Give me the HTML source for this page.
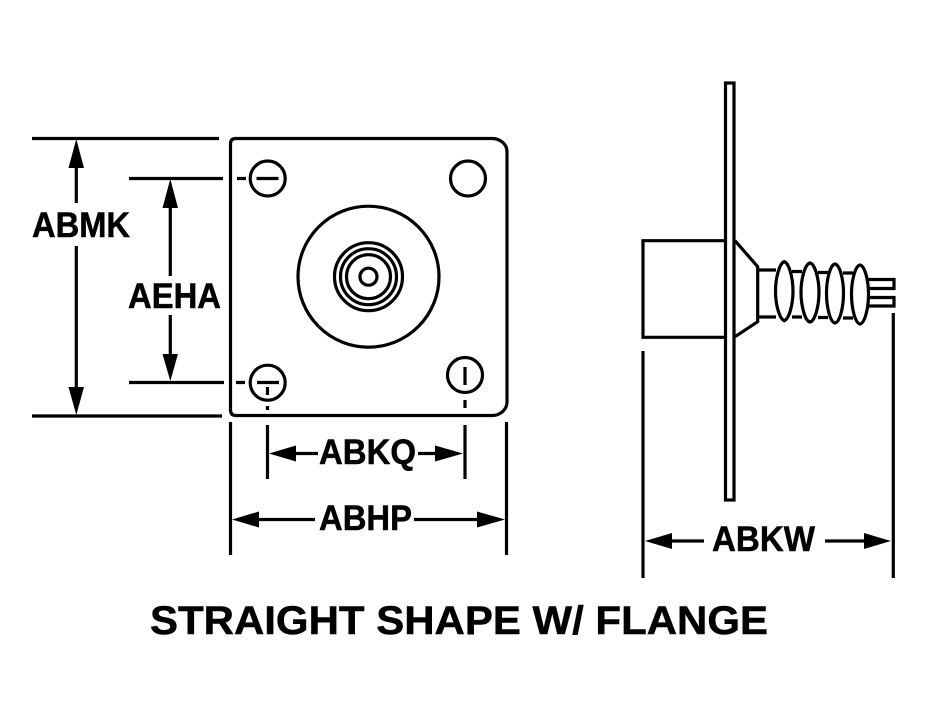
<!DOCTYPE html>
<html>
<head>
<meta charset="utf-8">
<style>
html,body{margin:0;padding:0;background:#fff;}
svg{display:block;}
text{font-family:"Liberation Sans",Arial,sans-serif;font-weight:bold;fill:#000;stroke:#000;stroke-width:.5;}
</style>
</head>
<body>
<svg width="928" height="708" viewBox="0 0 928 708" xmlns="http://www.w3.org/2000/svg">
<rect width="928" height="708" fill="#fff"/>
<g fill="none" stroke="#000" stroke-width="3.2">
  <!-- plate -->
  <path d="M235.500 138.500H492A15 13 0 0 1 507 151.500V402A15 13.500 0 0 1 492 415.500H236Q230.500 415.500 230.500 410V144Q230.500 138.500 235.500 138.500Z"/>
  <circle cx="267.700" cy="178.500" r="17.500"/>
  <circle cx="468" cy="178.500" r="17.500"/>
  <circle cx="267.700" cy="382.700" r="17.500"/>
  <circle cx="465" cy="375" r="17.500"/>
  <circle cx="368.500" cy="276.700" r="70.500"/>
  <circle cx="368.500" cy="276.700" r="34"/>
  <circle cx="368.500" cy="276.700" r="28"/>
  <circle cx="368.500" cy="276.700" r="22"/>
  <circle cx="368.500" cy="276.700" r="8.500"/>
  <!-- centre lines -->
  <path d="M237 178.500H246M256.500 178.500H278.500M236 382.500H245M257 382.500H279M267.500 387V395M267.500 406V410M465 367V385M465 400V408"/>
  <!-- left dims -->
  <path d="M32 138.500H219M129 178.500H223M129 382.500H224M32 416H222"/>
  <path d="M76.300 160V203M76.300 246V395M170.300 200V276M170.300 315V362"/>
  <!-- bottom dims -->
  <path d="M267.500 425V479M465 425V479M230.500 422V555M506.500 422V555M290 453.500H318M418 453.500H440M255 519.500H315M414 519.500H480"/>
  <path d="M643 351V578M893.300 313V578M668 541H704M825 541H868"/>
  <!-- side view -->
  <rect x="725.500" y="83" width="8.500" height="417"/>
  <path d="M724 240.700H643V337.300H724"/>
  <path d="M735 240.700L757.700 266.700V321.700L735 336.700"/>
  <path d="M757.700 270H776M757.700 317H776M792 271.500H802M792 317H802M818 272.500H828M818 317.500H828M843 273H853M843 318H853"/>
  <path d="M784.300 261.700C789 263 793 278 793 291C793 305 789 319 784.300 320.700C779.500 319 775.500 305 775.500 291C775.500 278 779.500 263 784.300 261.700Z" transform="translate(0 0)"/>
  <path d="M810 263C815 264 819 279 819 292C819 306 815 321 810 322C805 321 801 306 801 292C801 279 805 264 810 263Z"/>
  <path d="M835 264C840 265 843.500 280 843.500 293C843.500 307 840 322 835 323C830 322 826.500 307 826.500 293C826.500 280 830 265 835 264Z"/>
  <path d="M860 265C865 266 868.500 281 868.500 294C868.500 308 865 323 860 324C855 323 851.500 308 851.500 294C851.500 281 855 266 860 265Z"/>
  <path d="M868 279.500H894V288.500H868M868 297.500H894V306H868"/>
</g>
<g fill="#000" stroke="none">
  <!-- arrowheads -->
  <polygon points="76.300,139 68.500,168 84,168"/>
  <polygon points="76.300,415 68.500,387 84,387"/>
  <polygon points="170.300,179 162.500,208 178,208"/>
  <polygon points="170.300,381 162.500,354 178,354"/>
  <polygon points="269,453.500 296,445.500 296,461.500"/>
  <polygon points="463,453.500 435,445.500 435,461.500"/>
  <polygon points="232,519.500 259,511.500 259,527.500"/>
  <polygon points="505,519.500 477,511.500 477,527.500"/>
  <polygon points="645,541 672,533 672,549"/>
  <polygon points="891,541 864,533 864,549"/>
</g>
<text x="32" y="237" font-size="35" textLength="98" lengthAdjust="spacingAndGlyphs">ABMK</text>
<text x="128" y="308" font-size="35" textLength="93" lengthAdjust="spacingAndGlyphs">AEHA</text>
<text x="319" y="464" font-size="35" textLength="97" lengthAdjust="spacingAndGlyphs">ABKQ</text>
<text x="319" y="530" font-size="35" textLength="93" lengthAdjust="spacingAndGlyphs">ABHP</text>
<text x="712" y="551" font-size="35" textLength="103" lengthAdjust="spacingAndGlyphs">ABKW</text>
<text x="150" y="634" font-size="40" textLength="618" lengthAdjust="spacingAndGlyphs">STRAIGHT SHAPE W/ FLANGE</text>
</svg>
</body>
</html>
